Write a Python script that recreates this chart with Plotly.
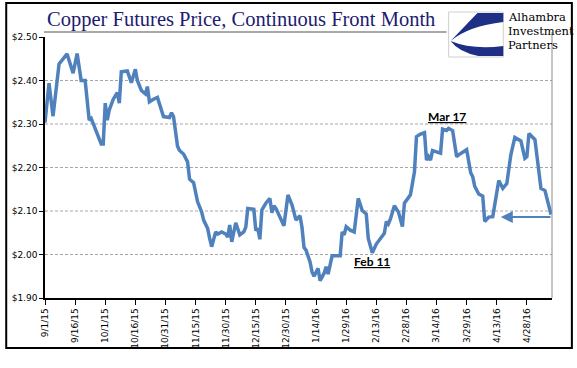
import plotly.graph_objects as go

# ---------------- data ----------------
dates = [
    "2015-09-01", "2015-09-03", "2015-09-05", "2015-09-08", "2015-09-12", "2015-09-15",
    "2015-09-17", "2015-09-19", "2015-09-21", "2015-09-23", "2015-09-24", "2015-09-26",
    "2015-09-29", "2015-09-30", "2015-10-01", "2015-10-02", "2015-10-03", "2015-10-05",
    "2015-10-07", "2015-10-08", "2015-10-09", "2015-10-12", "2015-10-14", "2015-10-16",
    "2015-10-17", "2015-10-19", "2015-10-21", "2015-10-22", "2015-10-23", "2015-10-25",
    "2015-10-27", "2015-10-30", "2015-11-02", "2015-11-03", "2015-11-04", "2015-11-06",
    "2015-11-07", "2015-11-09", "2015-11-11", "2015-11-12", "2015-11-14", "2015-11-16",
    "2015-11-18", "2015-11-19", "2015-11-21", "2015-11-22", "2015-11-23", "2015-11-25",
    "2015-11-26", "2015-11-28", "2015-11-30", "2015-12-01", "2015-12-02", "2015-12-03",
    "2015-12-05", "2015-12-07", "2015-12-09", "2015-12-10", "2015-12-11", "2015-12-14",
    "2015-12-15", "2015-12-16", "2015-12-17", "2015-12-18", "2015-12-20", "2015-12-22",
    "2015-12-23", "2015-12-24", "2015-12-25", "2015-12-29", "2015-12-31", "2016-01-02",
    "2016-01-04", "2016-01-06", "2016-01-07", "2016-01-08", "2016-01-09", "2016-01-11",
    "2016-01-12", "2016-01-13", "2016-01-15", "2016-01-16", "2016-01-18", "2016-01-19",
    "2016-01-20", "2016-01-22", "2016-01-26", "2016-01-27", "2016-01-28", "2016-01-29",
    "2016-01-31", "2016-02-02", "2016-02-04", "2016-02-06", "2016-02-08", "2016-02-09",
    "2016-02-11", "2016-02-13", "2016-02-15", "2016-02-17", "2016-02-18", "2016-02-19",
    "2016-02-20", "2016-02-22", "2016-02-24", "2016-02-25", "2016-02-26", "2016-02-27",
    "2016-02-28", "2016-03-01", "2016-03-03", "2016-03-04", "2016-03-06", "2016-03-08",
    "2016-03-09", "2016-03-10", "2016-03-11", "2016-03-12", "2016-03-14", "2016-03-16",
    "2016-03-17", "2016-03-19", "2016-03-20", "2016-03-22", "2016-03-24", "2016-03-25",
    "2016-03-29", "2016-03-31", "2016-04-01", "2016-04-02", "2016-04-04", "2016-04-06",
    "2016-04-07", "2016-04-09", "2016-04-11", "2016-04-13", "2016-04-14", "2016-04-16",
    "2016-04-18", "2016-04-20", "2016-04-22", "2016-04-25", "2016-04-27", "2016-04-28",
    "2016-04-29", "2016-05-02", "2016-05-04", "2016-05-05", "2016-05-07", "2016-05-09",
    "2016-05-10",
]
prices = [
    2.303, 2.394, 2.318, 2.438, 2.461, 2.417,
    2.462, 2.400, 2.400, 2.309, 2.313, 2.290,
    2.254, 2.254, 2.348, 2.309, 2.332, 2.357,
    2.372, 2.348, 2.420, 2.422, 2.395, 2.426,
    2.400, 2.377, 2.369, 2.386, 2.351, 2.357,
    2.361, 2.317, 2.315, 2.326, 2.317, 2.249,
    2.239, 2.231, 2.213, 2.173, 2.165, 2.121,
    2.098, 2.079, 2.060, 2.037, 2.018, 2.052,
    2.047, 2.052, 2.047, 2.040, 2.068, 2.029,
    2.073, 2.045, 2.052, 2.063, 2.106, 2.104,
    2.055, 2.060, 2.035, 2.102, 2.118, 2.129,
    2.096, 2.112, 2.106, 2.066, 2.137, 2.114,
    2.079, 2.089, 2.062, 2.016, 2.010, 1.983,
    1.960, 1.950, 1.968, 1.940, 1.957, 1.972,
    1.955, 1.997, 1.997, 2.052, 2.045, 2.064,
    2.056, 2.052, 2.129, 2.101, 2.093, 2.037,
    2.004, 2.024, 2.035, 2.049, 2.076, 2.070,
    2.081, 2.112, 2.098, 2.083, 2.064, 2.118,
    2.125, 2.137, 2.190, 2.271, 2.277, 2.280,
    2.217, 2.225, 2.217, 2.239, 2.236, 2.233,
    2.288, 2.285, 2.290, 2.285, 2.225, 2.229,
    2.241, 2.188, 2.179, 2.157, 2.139, 2.134,
    2.076, 2.086, 2.087, 2.144, 2.170, 2.152,
    2.163, 2.229, 2.269, 2.261, 2.221, 2.225,
    2.278, 2.264, 2.194, 2.152, 2.147, 2.114,
    2.092,
]

x_tick_dates = [
    "2015-09-01", "2015-09-16", "2015-10-01", "2015-10-16", "2015-10-31", "2015-11-15",
    "2015-11-30", "2015-12-15", "2015-12-30", "2016-01-14", "2016-01-29", "2016-02-13",
    "2016-02-28", "2016-03-14", "2016-03-29", "2016-04-13", "2016-04-28",
]
x_tick_labels = [
    "9/1/15", "9/16/15", "10/1/15", "10/16/15", "10/31/15", "11/15/15",
    "11/30/15", "12/15/15", "12/30/15", "1/14/16", "1/29/16", "2/13/16",
    "2/28/16", "3/14/16", "3/29/16", "4/13/16", "4/28/16",
]
y_ticks = [1.90, 2.00, 2.10, 2.20, 2.30, 2.40, 2.50]
y_tick_labels = ["$1.90", "$2.00", "$2.10", "$2.20", "$2.30", "$2.40", "$2.50"]

title_text = "Copper Futures Price, Continuous Front Month"
logo_lines = ["Alhambra", "Investment", "Partners"]
note_peak = ("2016-03-19", 2.317, "Mar 17")
note_low = ("2016-02-11", 1.983, "Feb 11")
arrow_level = 2.086
arrow_from = "2016-05-10 12:00"
arrow_to = "2016-04-15"

x_range = ["2015-09-01", "2016-05-10 12:00"]
y_range = [1.90, 2.50]

# ---------------- layout helpers ----------------
W, H = 577, 368
L, R, T, B = 42, 25, 37, 70
PW, PH = W - L - R, H - T - B


def px(x):
    return (x - L) / PW


def py(y):
    return (H - B - y) / PH


BLUE = "#4f81bd"
NAVY = "#1b1b6f"

fig = go.Figure()
fig.add_trace(go.Scatter(
    x=dates, y=prices, mode="lines",
    line=dict(color=BLUE, width=3.5),
    hoverinfo="skip", showlegend=False,
))

shapes = []
# dashed gridlines
for v in y_ticks[1:-1]:
    shapes.append(dict(type="line", xref="paper", yref="y", x0=0, x1=1, y0=v, y1=v,
                       line=dict(color="#a6a6a6", width=1, dash="3px,2px"), layer="below"))
# plot-area right border and title underline
shapes.append(dict(type="line", xref="paper", yref="paper", x0=1, x1=1, y0=0, y1=py(32),
                   line=dict(color="#8c8c8c", width=1)))
shapes.append(dict(type="line", xref="paper", yref="paper", x0=px(41), x1=px(446),
                   y0=py(32), y1=py(32), line=dict(color="#8c8c8c", width=1.5)))
# outer frame
shapes.append(dict(type="rect", xref="paper", yref="paper", x0=px(3), x1=px(572),
                   y0=py(348), y1=py(3), line=dict(color="black", width=2)))
# logo box
shapes.append(dict(type="rect", xref="paper", yref="paper", x0=px(448), x1=px(503),
                   y0=py(57), y1=py(12), line=dict(color="#d0d0d0", width=1),
                   fillcolor="white"))


def path(cmds):
    out = []
    for c in cmds:
        if isinstance(c, str):
            out.append(c)
        else:
            out.append(f"{px(c[0]):.5f},{py(c[1]):.5f}")
    return " ".join(out)


upper = path(["M", (450, 41), "L", (477, 13), "L", (503, 13), "L", (503, 22),
              "Q", (468, 26), (450, 41), "Z"])
lower = path(["M", (450, 41), "Q", (472, 50), (503, 46), "L", (503, 56), "L", (478, 56),
              "Q", (458, 52), (450, 41), "Z"])
for p in (upper, lower):
    shapes.append(dict(type="path", xref="paper", yref="paper", path=p,
                       fillcolor="#1f2f86", line=dict(width=0)))

annotations = [
    dict(text=title_text, xref="paper", yref="paper", x=px(42), y=py(19),
         xanchor="left", yanchor="middle", showarrow=False,
         font=dict(family="Liberation Serif", size=20.5, color=NAVY)),
]
for i, t in enumerate(logo_lines):
    annotations.append(dict(text=t, xref="paper", yref="paper", x=px(506), y=py(17 + 14 * i),
                            xanchor="left", yanchor="middle", showarrow=False,
                            font=dict(family="DejaVu Serif", size=11.5, color="black")))
for xd, yv, t in (note_peak, note_low):
    annotations.append(dict(text=f"<b><u>{t}</u></b>", x=xd, y=yv, xref="x", yref="y",
                            showarrow=False, font=dict(family="Lato", size=12, color="black")))
annotations.append(dict(text="", x=arrow_to, y=arrow_level, ax=arrow_from, ay=arrow_level,
                        xref="x", yref="y", axref="x", ayref="y", showarrow=True,
                        arrowhead=2, arrowsize=1.2, arrowwidth=2, arrowcolor=BLUE))

tick_font = dict(family="DejaVu Sans", size=9, color="black")
fig.update_layout(
    width=W, height=H,
    margin=dict(l=L, r=R, t=T, b=B),
    paper_bgcolor="white", plot_bgcolor="white",
    showlegend=False,
    shapes=shapes,
    annotations=annotations,
    xaxis=dict(type="date", range=x_range, tickvals=x_tick_dates, ticktext=x_tick_labels,
               tickangle=-90, ticks="outside", ticklen=5, tickcolor="black", tickwidth=1,
               showline=True, linecolor="black", linewidth=1.5, showgrid=False,
               zeroline=False, tickfont=tick_font, fixedrange=True),
    yaxis=dict(range=y_range, tickvals=y_ticks, ticktext=y_tick_labels,
               ticks="outside", ticklen=4, tickcolor="black", tickwidth=1,
               showline=True, linecolor="black", linewidth=1.5, showgrid=False,
               zeroline=False, tickfont=tick_font, fixedrange=True),
)

fig.write_html("out.html", config={"displayModeBar": False},
               post_script="document.body.style.margin='0';")
